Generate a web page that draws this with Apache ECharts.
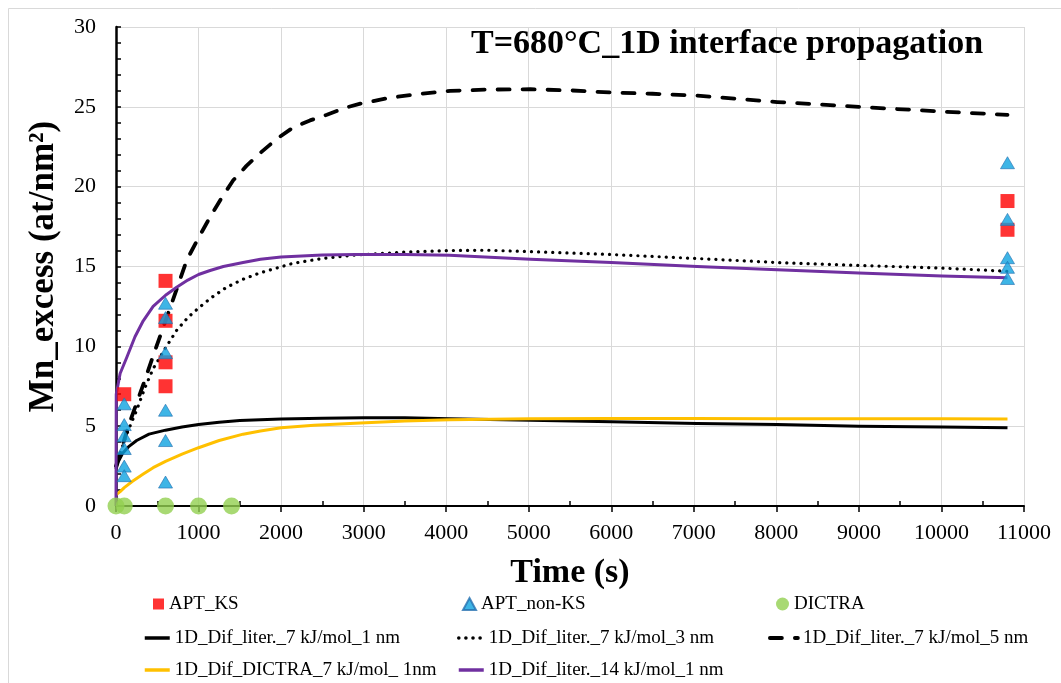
<!DOCTYPE html>
<html>
<head>
<meta charset="utf-8">
<script src="https://cdn.jsdelivr.net/npm/echarts@6/dist/echarts.min.js"></script>
<style>
html,body{margin:0;padding:0;background:#fff;}
#chart{width:1061px;height:683px;}
</style>
</head>
<body>
<div id="chart"></div>
<script>
// ---- data ----
const titleText = 'T=680°C_1D interface propagation';
const xName = 'Time (s)';
const yName = 'Mn_excess (at/nm²)';

const aptKS_t = [100, 600, 600, 600, 600, 10800, 10800];
const aptKS_v = [7.0, 14.1, 11.6, 9.0, 7.5, 19.1, 17.3];

const aptNonKS_t = [100, 100, 100, 100, 100, 100, 600, 600, 600, 600, 600, 600, 10800, 10800, 10800, 10800, 10800];
const aptNonKS_v = [6.4, 5.1, 4.4, 3.6, 2.5, 1.9, 12.7, 11.8, 9.6, 6.0, 4.1, 1.5, 21.5, 17.95, 15.55, 14.95, 14.25];

const dictra_t = [0, 100, 600, 1000, 1400];
const dictra_v = [0, 0, 0, 0, 0];

const lit7_1_t = [0, 30, 80, 150, 250, 400, 600, 800, 1000, 1250, 1500, 2000, 2500, 3000, 3500, 4040, 5020, 6000, 7040, 8010, 9000, 10010, 10800];
const lit7_1_v = [2.3, 2.8, 3.3, 3.7, 4.1, 4.5, 4.75, 4.95, 5.1, 5.25, 5.35, 5.45, 5.5, 5.52, 5.52, 5.47, 5.37, 5.28, 5.17, 5.1, 5.0, 4.95, 4.9];

const lit7_3_t = [0, 70, 145, 250, 350, 450, 600, 735, 870, 1000, 1170, 1340, 1540, 1745, 2145, 2500, 2900, 3500, 4040, 4500, 5020, 6000, 7040, 8010, 9000, 10010, 10800];
const lit7_3_v = [2.5, 3.6, 4.7, 6.0, 7.4, 8.6, 9.9, 11.0, 11.8, 12.4, 13.1, 13.7, 14.2, 14.6, 15.2, 15.5, 15.72, 15.9, 16.0, 16.02, 15.93, 15.75, 15.5, 15.25, 15.07, 14.9, 14.7];

const lit7_5_t = [0, 50, 150, 240, 330, 450, 600, 730, 857, 1000, 1140, 1280, 1420, 1580, 1745, 1950, 2145, 2350, 2555, 2750, 2960, 3300, 3650, 4050, 4500, 5020, 5500, 5990, 6500, 7040, 8010, 9000, 10010, 10800];
const lit7_5_v = [2.5, 3.3, 5.0, 6.3, 7.6, 9.4, 11.6, 13.5, 15.4, 16.8, 18.1, 19.3, 20.4, 21.3, 22.1, 23.0, 23.7, 24.15, 24.5, 24.9, 25.2, 25.55, 25.8, 26.0, 26.08, 26.1, 26.03, 25.9, 25.82, 25.7, 25.3, 25.0, 24.7, 24.5];

const dic7_1_t = [0, 50, 100, 200, 330, 450, 600, 800, 1000, 1250, 1540, 1750, 2000, 2400, 2960, 3500, 4040, 5020, 6000, 7000, 8000, 9000, 10000, 10800];
const dic7_1_v = [0.7, 0.9, 1.15, 1.55, 2.0, 2.4, 2.8, 3.25, 3.65, 4.1, 4.5, 4.7, 4.9, 5.05, 5.2, 5.32, 5.4, 5.47, 5.48, 5.48, 5.47, 5.47, 5.46, 5.45];

const lit14_1_t = [0, 3, 50, 130, 230, 330, 450, 600, 735, 870, 1000, 1140, 1300, 1540, 1750, 2000, 2500, 2900, 3500, 4040, 5020, 6000, 7040, 8010, 9000, 10010, 10800];
const lit14_1_v = [0, 7.0, 8.3, 9.3, 10.6, 11.6, 12.5, 13.2, 13.7, 14.15, 14.5, 14.75, 15.0, 15.25, 15.45, 15.6, 15.72, 15.75, 15.75, 15.7, 15.45, 15.25, 15.0, 14.8, 14.6, 14.4, 14.3];

const names = ['APT_KS', 'APT_non-KS', 'DICTRA',
  '1D_Dif_liter._7 kJ/mol_1 nm', '1D_Dif_liter._7 kJ/mol_3 nm', '1D_Dif_liter._7 kJ/mol_5 nm',
  '1D_Dif_DICTRA_7 kJ/mol_ 1nm', '1D_Dif_liter._14 kJ/mol_1 nm'];

const xTicks = {min: 0, max: 11000, interval: 1000};
const yTicks = {min: 0, max: 30, interval: 5};

// ---- build ----
const zip = (t, v) => t.map((x, i) => [x, v[i]]);
const FONT = '"Liberation Serif", "Times New Roman", serif';

const chart = echarts.init(document.getElementById('chart'), null, {renderer: 'canvas'});

function lineSeries(name, t, v, color, width, type, z) {
  return {
    name, type: 'line', data: zip(t, v), showSymbol: false, symbol: 'none',
    smooth: false, z: z || 2,
    lineStyle: {color, width, type, cap: type === 'solid' ? 'butt' : 'round', join: 'round'},
    itemStyle: {color}
  };
}

function legendItem(name, left, cy, w, h, lineW) {
  const l = {
    data: [name], left, top: cy - 10, padding: 0, itemWidth: w, itemHeight: h,
    itemGap: 0, selectedMode: false,
    textStyle: {fontFamily: FONT, fontSize: 19, color: '#000', lineHeight: 20}
  };
  if (lineW) { l.itemStyle = {opacity: 0}; l.lineStyle = {width: lineW}; }
  return l;
}

const option = {
  backgroundColor: '#fff',
  animation: false,
  grid: {left: 116, right: 37, top: 27, bottom: 177, containLabel: false},
  xAxis: {
    type: 'value', min: xTicks.min, max: xTicks.max, interval: xTicks.interval,
    name: xName, nameLocation: 'middle', nameGap: 50,
    nameTextStyle: {fontFamily: FONT, fontSize: 34, fontWeight: 'bold', color: '#000'},
    axisLine: {show: true, onZero: false, lineStyle: {color: '#000', width: 2}},
    axisTick: {show: true, inside: false, length: 6, lineStyle: {color: '#000', width: 1.5}},
    minorTick: {show: true, splitNumber: 2, length: -5, lineStyle: {color: '#000', width: 1.5}},
    axisLabel: {fontFamily: FONT, fontSize: 22, color: '#000', margin: 16, formatter: v => String(v)},
    splitLine: {show: true, lineStyle: {color: '#d9d9d9', width: 1}}
  },
  yAxis: {
    type: 'value', min: yTicks.min, max: yTicks.max, interval: yTicks.interval,
    name: yName, nameLocation: 'middle', nameGap: 55, nameRotate: 90,
    nameTextStyle: {fontFamily: FONT, fontSize: 35, fontWeight: 'bold', color: '#000'},
    axisLine: {show: true, onZero: false, lineStyle: {color: '#000', width: 2.5}},
    axisTick: {show: true, inside: true, length: 5, lineStyle: {color: '#000', width: 1.5}},
    minorTick: {show: true, splitNumber: 5, length: 5, lineStyle: {color: '#000', width: 1.5}},
    axisLabel: {fontFamily: FONT, fontSize: 22, color: '#000', margin: 20},
    splitLine: {show: true, lineStyle: {color: '#d9d9d9', width: 1}}
  },
  legend: [
    legendItem(names[0], 153, 604, 11, 11),
    legendItem(names[1], 462, 604, 13, 12),
    legendItem(names[2], 776, 604, 13, 13),
    legendItem(names[3], 143, 638, 25, 12, 3.5),
    legendItem(names[4], 457, 638, 25, 12, 3.5),
    legendItem(names[5], 768, 638, 28, 12, 3.8),
    legendItem(names[6], 143, 670, 25, 12, 3.5),
    legendItem(names[7], 457, 670, 25, 12, 3.5)
  ],
  graphic: [
    {type: 'rect', shape: {x: 8.5, y: 8.5, width: 1060, height: 690}, style: {fill: null, stroke: '#d9d9d9', lineWidth: 1}, silent: true, z: -1},
    {type: 'text', x: 727, y: 44, z: 100,
     style: {text: titleText, textAlign: 'center', textVerticalAlign: 'middle',
             font: 'bold 34px "Liberation Serif"', fill: '#000'}}
  ],
  series: [
    {name: names[0], type: 'scatter', data: zip(aptKS_t, aptKS_v), symbol: 'rect', symbolSize: 14, z: 5,
     itemStyle: {color: '#ff0000'}},
    {name: names[1], type: 'scatter', data: zip(aptNonKS_t, aptNonKS_v), symbol: 'triangle', symbolSize: [14, 12], z: 6,
     itemStyle: {color: '#0ea2e0', borderColor: '#2670b0', borderWidth: 0.8}},
    {name: names[2], type: 'scatter', data: zip(dictra_t, dictra_v), symbol: 'circle', symbolSize: 17, z: 7,
     itemStyle: {color: '#92d050'}},
    lineSeries(names[3], lit7_1_t, lit7_1_v, '#000000', 3, 'solid', 3),
    lineSeries(names[4], lit7_3_t, lit7_3_v, '#000000', 3.2, [0.1, 7], 3),
    lineSeries(names[5], lit7_5_t, lit7_5_v, '#000000', 3.8, [12, 13], 3),
    lineSeries(names[6], dic7_1_t, dic7_1_v, '#ffc000', 3, 'solid', 3),
    lineSeries(names[7], lit14_1_t, lit14_1_v, '#7030a0', 3, 'solid', 3)
  ]
};
chart.setOption(option);
</script>
</body>
</html>
